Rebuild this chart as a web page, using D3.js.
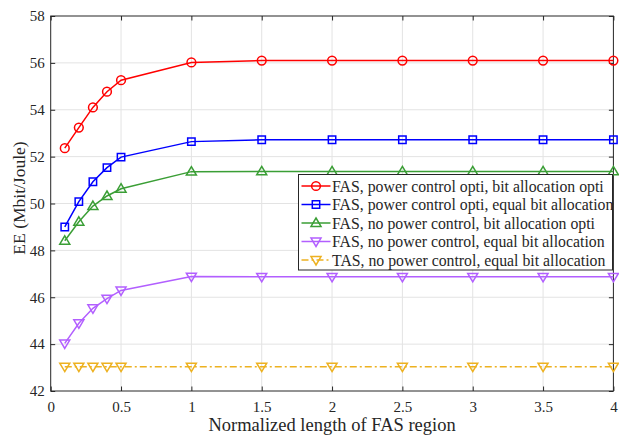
<!DOCTYPE html>
<html>
<head>
<meta charset="utf-8">
<script src="https://cdn.jsdelivr.net/npm/d3@7"></script>
<style>
  html, body { margin: 0; padding: 0; background: #fff; }
  svg { display: block; }
</style>
</head>
<body>
<svg id="chart" width="619" height="437" font-family="'Liberation Serif', 'DejaVu Serif', serif"></svg>
<script>
// Normalized FAS region length (x axis)
const lengths = [0.1, 0.2, 0.3, 0.4, 0.5, 1, 1.5, 2, 2.5, 3, 3.5, 4];

// Energy efficiency (Mbit/Joule) per scheme
const fasPcOptBaOpt   = [52.36, 53.24, 54.10, 54.77, 55.26, 56.02, 56.10, 56.10, 56.10, 56.10, 56.10, 56.10];
const fasPcOptBaEqual = [49.00, 50.08, 50.93, 51.53, 51.98, 52.64, 52.72, 52.72, 52.72, 52.72, 52.72, 52.72];
const fasNoPcBaOpt    = [48.41, 49.22, 49.89, 50.32, 50.63, 51.36, 51.37, 51.37, 51.37, 51.37, 51.37, 51.37];
const fasNoPcBaEqual  = [44.03, 44.89, 45.53, 45.94, 46.29, 46.88, 46.87, 46.87, 46.87, 46.87, 46.87, 46.87];
const tasNoPcBaEqual  = [43.04, 43.04, 43.04, 43.04, 43.04, 43.04, 43.04, 43.04, 43.04, 43.04, 43.04, 43.04];

const seriesNames = [
  "FAS, power control opti, bit allocation opti",
  "FAS, power control opti, equal bit allocation",
  "FAS, no power control, bit allocation opti",
  "FAS, no power control, equal bit allocation",
  "TAS, no power control, equal bit allocation"
];

const xTicks = [0, 0.5, 1, 1.5, 2, 2.5, 3, 3.5, 4];
const yTicks = [42, 44, 46, 48, 50, 52, 54, 56, 58];

const series = [
  { name: seriesNames[0], values: fasPcOptBaOpt,   color: "#ff0000", marker: "circle",  dash: null },
  { name: seriesNames[1], values: fasPcOptBaEqual, color: "#0000ff", marker: "square",  dash: null },
  { name: seriesNames[2], values: fasNoPcBaOpt,    color: "#3a9e35", marker: "triUp",   dash: null },
  { name: seriesNames[3], values: fasNoPcBaEqual,  color: "#b25fff", marker: "triDown", dash: null },
  { name: seriesNames[4], values: tasNoPcBaEqual,  color: "#edb120", marker: "triDown", dash: "7,3,2,3" }
];

const FONT = "'Liberation Serif', 'DejaVu Serif', serif";
const INK = "#262626";
const svg = d3.select("#chart");
const plotL = 50.7, plotR = 613.4, plotT = 16, plotB = 391;

const x = d3.scaleLinear().domain([0, 4]).range([plotL, plotR]);
const y = d3.scaleLinear().domain([42, 58]).range([plotB, plotT]);

// grid
const grid = svg.append("g").attr("stroke", "#e3e3e3").attr("stroke-width", 1);
grid.selectAll(".gx").data(xTicks.slice(1, -1)).join("line")
  .attr("x1", d => x(d)).attr("x2", d => x(d)).attr("y1", plotT).attr("y2", plotB);
grid.selectAll(".gy").data(yTicks.slice(1, -1)).join("line")
  .attr("y1", d => y(d)).attr("y2", d => y(d)).attr("x1", plotL).attr("x2", plotR);

// axes with inward ticks on all four sides
const tickLen = 4.5;
const axisStyle = g => {
  g.select(".domain").remove();
  g.attr("font-family", FONT);
  g.selectAll(".tick line").attr("stroke", INK).attr("stroke-width", 1);
  g.selectAll(".tick text").attr("fill", INK).attr("font-size", 15).attr("font-family", FONT);
};
svg.append("g").attr("transform", `translate(0,${plotB})`)
  .call(d3.axisBottom(x).tickValues(xTicks).tickFormat(d3.format("")).tickSizeInner(-tickLen).tickSizeOuter(0).tickPadding(10))
  .call(axisStyle);
svg.append("g").attr("transform", `translate(0,${plotT})`)
  .call(d3.axisTop(x).tickValues(xTicks).tickFormat("").tickSizeInner(-tickLen).tickSizeOuter(0))
  .call(axisStyle);
svg.append("g").attr("transform", `translate(${plotL},0)`)
  .call(d3.axisLeft(y).tickValues(yTicks).tickFormat(d3.format("d")).tickSizeInner(-tickLen).tickSizeOuter(0).tickPadding(6))
  .call(axisStyle);
svg.append("g").attr("transform", `translate(${plotR},0)`)
  .call(d3.axisRight(y).tickValues(yTicks).tickFormat("").tickSizeInner(-tickLen).tickSizeOuter(0))
  .call(axisStyle);

// plot frame
svg.append("rect").attr("x", plotL).attr("y", plotT).attr("width", plotR - plotL).attr("height", plotB - plotT)
  .attr("fill", "none").attr("stroke", INK).attr("stroke-width", 1);

// marker shapes
function markerPath(type) {
  switch (type) {
    case "circle": return d3.symbol(d3.symbolCircle, 60)();
    case "square": return "M-3.7,-3.7H3.7V3.7H-3.7Z";
    case "triUp": return "M0,-5L5,3.4L-5,3.4Z";
    case "triDown": return "M0,5L5,-3.4L-5,-3.4Z";
  }
}

const line = d3.line().x((d, i) => x(lengths[i])).y(d => y(d));

const plot = svg.append("g");
series.forEach(s => {
  plot.append("path").datum(s.values)
    .attr("d", line).attr("fill", "none").attr("stroke", s.color)
    .attr("stroke-width", 1.5).attr("stroke-dasharray", s.dash);
  plot.selectAll(null).data(s.values).join("path")
    .attr("transform", (d, i) => `translate(${x(lengths[i])},${y(d)})`)
    .attr("d", markerPath(s.marker))
    .attr("fill", "none").attr("stroke", s.color).attr("stroke-width", 1.5);
});

// legend
const lg = svg.append("g");
const lgX = 298.5, lgY = 174.5, lgW = 314, lgH = 95.5, rowH = 18.5;
lg.append("rect").attr("x", lgX).attr("y", lgY).attr("width", lgW).attr("height", lgH)
  .attr("fill", "#fff").attr("stroke", INK).attr("stroke-width", 1);
series.forEach((s, i) => {
  const cy = lgY + 11.5 + i * rowH;
  lg.append("line").attr("x1", lgX + 3).attr("x2", lgX + 32).attr("y1", cy).attr("y2", cy)
    .attr("stroke", s.color).attr("stroke-width", 1.5).attr("stroke-dasharray", s.dash);
  lg.append("path").attr("transform", `translate(${lgX + 17.5},${cy})`)
    .attr("d", markerPath(s.marker)).attr("fill", "none").attr("stroke", s.color).attr("stroke-width", 1.5);
  lg.append("text").attr("x", lgX + 33.5).attr("y", cy).attr("dy", "0.35em")
    .attr("font-family", FONT).attr("font-size", 15.8).attr("fill", INK).text(s.name);
});

// axis titles
svg.append("text").attr("x", (plotL + plotR) / 2).attr("y", 431).attr("text-anchor", "middle")
  .attr("font-family", FONT).attr("font-size", 18.5).attr("fill", INK).text("Normalized length of FAS region");
svg.append("text").attr("transform", `translate(24.5,198) rotate(-90)`)
  .attr("text-anchor", "middle").attr("font-family", FONT).attr("font-size", 17.5).attr("fill", INK).text("EE (Mbit/Joule)");
</script>
</body>
</html>
